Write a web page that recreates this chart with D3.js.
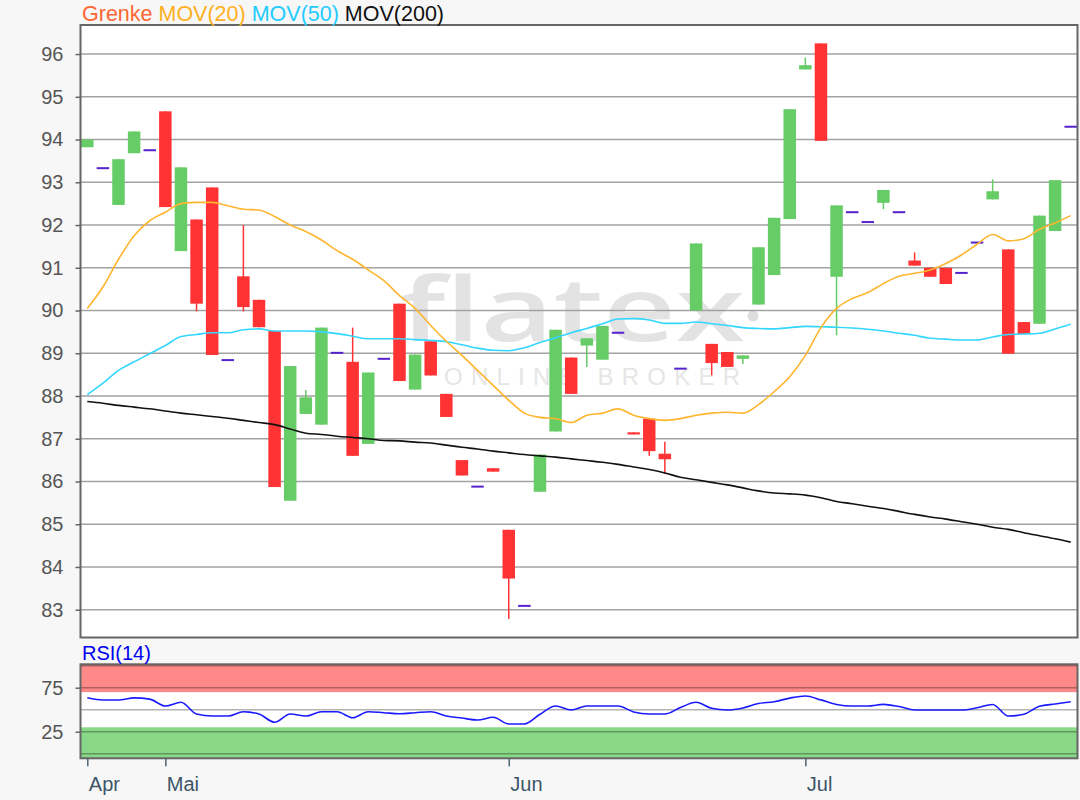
<!DOCTYPE html>
<html>
<head>
<meta charset="utf-8">
<script src="https://cdn.jsdelivr.net/npm/d3@7"></script>
<style>
  body { margin: 0; background: #f7f7f7; }
  text { font-family: "Liberation Sans", Arial, sans-serif; }
</style>
</head>
<body>
<script>
// ---------------- DATA ----------------
const opens  = [93.82,93.33,92.47,93.68,93.75,94.66,91.39,92.13,92.88,88.84,
                90.80,90.25,89.52,85.55,87.58,87.33,89.01,88.80,86.88,88.87,
                90.16,88.15,89.28,88.05,86.50,85.88,86.31,84.87,83.09,85.76,
                87.17,88.90,89.18,88.85,89.48,87.15,87.47,86.65,88.64,90.00,
                89.22,89.03,88.87,90.14,90.83,92.14,95.64,96.25,90.79,92.30,
                92.07,92.52,92.30,91.17,91.00,91.00,90.88,91.59,92.60,91.43,
                89.73,89.69,91.86,94.30];
const closes = [94.00,93.33,93.54,94.19,93.75,92.42,93.35,90.16,88.96,88.84,
                90.08,89.61,85.87,88.70,87.97,89.60,89.01,86.60,88.55,88.87,
                88.35,88.97,88.48,87.51,86.14,85.88,86.23,83.73,83.09,86.63,
                89.55,88.05,89.35,89.64,89.48,87.10,86.71,86.52,88.64,91.57,
                88.77,88.68,88.95,91.48,92.17,94.71,95.74,93.97,92.46,92.30,
                92.07,92.82,92.30,91.05,90.79,90.62,90.88,91.59,92.79,88.99,
                89.45,92.22,93.05,94.30];
const highs  = [94.00,93.33,93.54,94.19,93.75,94.66,93.35,92.13,92.88,88.84,
                92.00,90.25,89.52,88.70,88.14,89.60,89.01,89.60,88.55,88.87,
                90.16,88.97,89.28,88.05,86.50,85.88,86.31,84.87,83.09,86.63,
                89.55,88.90,89.35,89.64,89.48,87.15,87.47,86.93,88.64,91.57,
                89.22,89.03,88.95,91.48,92.17,94.71,95.92,96.25,92.46,92.30,
                92.07,92.82,92.30,91.36,91.00,91.00,90.88,91.59,93.07,91.43,
                89.73,92.22,93.05,94.30];
const lows   = [93.82,93.33,92.47,93.68,93.75,92.42,91.39,89.98,88.96,88.84,
                89.98,89.61,85.87,85.55,87.58,87.33,89.01,86.60,86.88,88.87,
                88.35,88.15,88.48,87.51,86.14,85.88,86.23,82.78,83.09,85.76,
                87.17,88.05,88.68,88.85,89.48,87.10,86.60,86.18,88.64,90.00,
                88.48,88.68,88.75,90.14,90.83,92.14,95.64,93.97,89.42,92.30,
                92.07,92.37,92.30,91.05,90.79,90.62,90.88,91.59,92.60,88.99,
                89.45,89.69,91.86,94.30];
const mov20  = [90.05,90.55,91.20,91.75,92.10,92.30,92.50,92.53,92.53,92.45,
                92.37,92.35,92.20,92.00,91.85,91.65,91.40,91.20,90.95,90.70,
                90.35,90.05,89.65,89.28,88.95,88.60,88.25,87.90,87.60,87.50,
                87.47,87.38,87.55,87.60,87.70,87.55,87.47,87.43,87.47,87.55,
                87.60,87.62,87.60,87.80,88.10,88.45,88.95,89.60,90.05,90.28,
                90.42,90.63,90.80,90.87,90.95,91.10,91.30,91.55,91.78,91.63,
                91.68,91.90,92.05,92.22];
const mov50  = [88.03,88.30,88.60,88.80,88.99,89.18,89.39,89.44,89.48,89.48,
                89.55,89.57,89.52,89.52,89.52,89.50,89.46,89.40,89.34,89.34,
                89.34,89.32,89.30,89.27,89.20,89.12,89.07,89.06,89.13,89.25,
                89.36,89.48,89.58,89.69,89.80,89.81,89.78,89.70,89.70,89.73,
                89.69,89.65,89.60,89.58,89.57,89.60,89.63,89.62,89.61,89.59,
                89.56,89.52,89.47,89.42,89.35,89.33,89.31,89.31,89.38,89.44,
                89.45,89.47,89.57,89.68];
const mov200 = [87.87,87.83,87.78,87.74,87.70,87.65,87.60,87.56,87.52,87.48,
                87.43,87.38,87.33,87.23,87.13,87.10,87.06,87.03,87.00,86.96,
                86.95,86.92,86.90,86.85,86.80,86.76,86.71,86.67,86.63,86.60,
                86.57,86.53,86.49,86.45,86.40,86.34,86.28,86.20,86.10,86.04,
                85.98,85.92,85.85,85.78,85.73,85.71,85.68,85.62,85.53,85.48,
                85.42,85.37,85.30,85.23,85.17,85.12,85.06,85.00,84.93,84.88,
                84.80,84.73,84.66,84.58];
const rsi14  = [63.5,61.0,61.0,63.5,62.0,54.2,58.4,45.1,42.8,42.8,
                47.7,45.1,35.7,45.1,42.8,47.7,47.7,40.9,47.7,46.6,
                45.5,46.6,47.7,42.8,40.5,38.3,41.4,33.8,33.8,44.8,
                54.2,49.7,54.2,54.2,54.2,47.5,45.1,45.1,52.5,58.4,
                51.6,49.7,52.0,57.0,59.1,63.2,65.6,61.2,56.0,54.2,
                54.2,56.1,53.6,49.7,49.7,49.7,49.7,52.2,56.0,42.8,
                44.8,54.0,56.5,59.1];
const priceTicks  = [83,84,85,86,87,88,89,90,91,92,93,94,95,96];
const rsiGrid     = [0,25,50,75,100];
const rsiTicks    = [25,75];
const rsiBands    = [70,30];
const monthLabels = ["Apr","Mai","Jun","Jul"];
const monthIdx    = [0,5,27,46];
const legendNames = ["Grenke","MOV(20)","MOV(50)","MOV(200)"];
const legendCols  = ["#ff6633","#ffb020","#22ccff","#111111"];

// ---------------- LAYOUT ----------------
const W = 1080, H = 800;
const L = 80.5, R = 1077.5;
const mainTop = 25, mainBot = 637.5;
const rsiTop = 664.3, rsiBot = 758.3;

const svg = d3.select("body").append("svg").attr("width", W).attr("height", H);
svg.append("rect").attr("width", W).attr("height", H).attr("fill", "#f7f7f7");

const idx = d3.range(opens.length);
const x = d3.scalePoint().domain(idx).range([L, R]).padding(0.435);
const y = d3.scaleLinear().domain([82.35, 96.68]).range([mainBot, mainTop]);
const yr = d3.scaleLinear().domain([-5.2, 101.6]).range([rsiBot, rsiTop]);
const bw = x.step() * 0.8;

// ---------- main panel ----------
svg.append("rect").attr("x", L).attr("y", mainTop).attr("width", R - L).attr("height", mainBot - mainTop).attr("fill", "#fff");

// watermark
const wm = svg.append("g").attr("class", "watermark");
wm.append("text").attr("x", 400).attr("y", 341).attr("font-size", 88).attr("fill", "#e3e3e3")
  .attr("font-weight", 600)
  .attr("textLength", 345).attr("lengthAdjust", "spacingAndGlyphs")
  .style("font-family", "'Open Sans', 'Noto Sans', sans-serif").text("flatex");
wm.append("circle").attr("cx", 753).attr("cy", 316).attr("r", 5.5).attr("fill", "#dddddd");
wm.append("text").attr("x", 444).attr("y", 385).attr("font-size", 24).attr("fill", "#e6e6e6")
  .attr("textLength", 296).attr("lengthAdjust", "spacing").text("ONLINE BROKER");

// gridlines
svg.append("g").selectAll("line").data(priceTicks).join("line")
  .attr("x1", L).attr("x2", R).attr("y1", d => y(d)).attr("y2", d => y(d))
  .attr("stroke", "#a2a2a2").attr("stroke-width", 1.6);

// y axis
const ya = svg.append("g").attr("transform", `translate(${L},0)`)
  .call(d3.axisLeft(y).tickValues(priceTicks).tickSize(5).tickPadding(12).tickFormat(d3.format("d")));
ya.select(".domain").remove();
ya.selectAll("line").attr("stroke", "#666").attr("stroke-width", 1.5);
ya.selectAll("text").attr("fill", "#555").attr("font-size", 20).style("font-family", "'Liberation Sans', Arial, sans-serif");

// candles
const colorOf = i => closes[i] > opens[i] ? "#66cc66" : closes[i] < opens[i] ? "#ff3333" : "#5522cc";
const cg = svg.append("g");
cg.selectAll("line.wick").data(idx.filter(i => opens[i] !== closes[i])).join("line").attr("class", "wick")
  .attr("x1", i => x(i)).attr("x2", i => x(i))
  .attr("y1", i => y(highs[i])).attr("y2", i => y(lows[i]))
  .attr("stroke", colorOf).attr("stroke-width", 1.5);
cg.selectAll("rect.body").data(idx.filter(i => opens[i] !== closes[i])).join("rect").attr("class", "body")
  .attr("x", i => x(i) - bw / 2).attr("width", bw)
  .attr("y", i => y(Math.max(opens[i], closes[i])))
  .attr("height", i => Math.max(2, Math.abs(y(opens[i]) - y(closes[i]))))
  .attr("fill", colorOf);
cg.selectAll("line.doji").data(idx.filter(i => opens[i] === closes[i])).join("line").attr("class", "doji")
  .attr("x1", i => x(i) - bw / 2).attr("x2", i => x(i) + bw / 2)
  .attr("y1", i => y(closes[i])).attr("y2", i => y(closes[i]))
  .attr("stroke", colorOf).attr("stroke-width", 2);

// moving averages
const lineGen = arr => d3.line().x(i => x(i)).y(i => y(arr[i])).curve(d3.curveMonotoneX)(idx);
svg.append("path").attr("d", lineGen(mov200)).attr("fill", "none").attr("stroke", "#111").attr("stroke-width", 1.6);
svg.append("path").attr("d", lineGen(mov50)).attr("fill", "none").attr("stroke", "#33d6ff").attr("stroke-width", 1.6);
svg.append("path").attr("d", lineGen(mov20)).attr("fill", "none").attr("stroke", "#ffb52e").attr("stroke-width", 1.6);

// frame
svg.append("rect").attr("x", L).attr("y", mainTop).attr("width", R - L).attr("height", mainBot - mainTop)
  .attr("fill", "none").attr("stroke", "#666").attr("stroke-width", 2);

// legend
const lg = svg.append("text").attr("x", 82).attr("y", 21).attr("font-size", 21.5);
legendNames.forEach((n, k) => {
  lg.append("tspan").attr("fill", legendCols[k]).text((k ? " " : "") + n);
});

// ---------- RSI panel ----------
svg.append("rect").attr("x", L).attr("y", rsiTop).attr("width", R - L).attr("height", rsiBot - rsiTop).attr("fill", "#fff");
svg.append("rect").attr("x", L).attr("y", rsiTop).attr("width", R - L).attr("height", yr(rsiBands[0]) - rsiTop).attr("fill", "#ff8888");
svg.append("rect").attr("x", L).attr("y", yr(rsiBands[1])).attr("width", R - L).attr("height", rsiBot - yr(rsiBands[1])).attr("fill", "#88d888");
svg.append("g").selectAll("line").data(rsiGrid).join("line")
  .attr("x1", L).attr("x2", R).attr("y1", d => yr(d)).attr("y2", d => yr(d))
  .attr("stroke", "rgba(0,0,0,0.3)").attr("stroke-width", 1.6);

const rya = svg.append("g").attr("transform", `translate(${L},0)`)
  .call(d3.axisLeft(yr).tickValues(rsiTicks).tickSize(5).tickPadding(12));
rya.select(".domain").remove();
rya.selectAll("line").attr("stroke", "#666").attr("stroke-width", 1.5);
rya.selectAll("text").attr("fill", "#555").attr("font-size", 20).style("font-family", "'Liberation Sans', Arial, sans-serif");

svg.append("path")
  .attr("d", d3.line().x(i => x(i)).y(i => yr(rsi14[i])).curve(d3.curveMonotoneX)(idx))
  .attr("fill", "none").attr("stroke", "#1a1aff").attr("stroke-width", 1.6);

svg.append("rect").attr("x", L).attr("y", rsiTop).attr("width", R - L).attr("height", rsiBot - rsiTop)
  .attr("fill", "none").attr("stroke", "#666").attr("stroke-width", 2);

svg.append("text").attr("x", 82).attr("y", 660).attr("font-size", 20).attr("fill", "#0000ee").text("RSI(14)");

// x axis
const xa = svg.append("g").attr("transform", `translate(0,${rsiBot})`)
  .call(d3.axisBottom(x).tickValues(monthIdx).tickSize(8).tickFormat((d, k) => monthLabels[k]));
xa.select(".domain").remove();
xa.selectAll("line").attr("stroke", "#4d6475").attr("stroke-width", 1.5);
xa.selectAll("text").attr("fill", "#3d5568").attr("font-size", 20)
  .attr("text-anchor", "start").attr("x", 1).attr("y", 33).attr("dy", 0)
  .style("font-family", "'Liberation Sans', Arial, sans-serif");
</script>
</body>
</html>
